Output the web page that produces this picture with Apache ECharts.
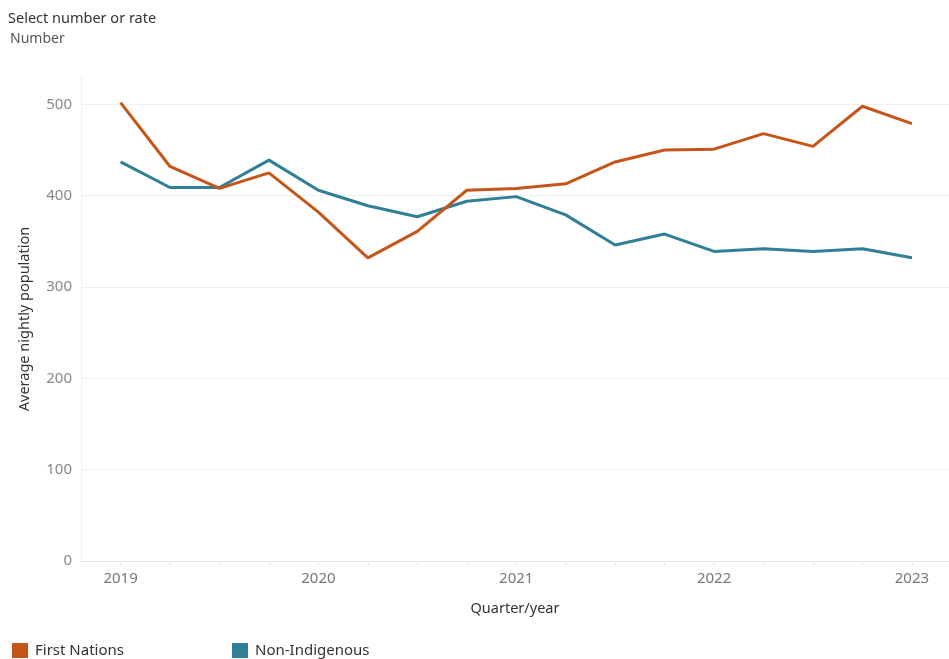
<!DOCTYPE html>
<html>
<head>
<meta charset="utf-8">
<script src="https://cdn.jsdelivr.net/npm/echarts@6/dist/echarts.min.js"></script>
<style>
  html, body { margin: 0; padding: 0; background: #fff; }
  #chart { width: 949px; height: 659px; }
</style>
</head>
<body>
<div id="chart"></div>
<script>
  // quarters, 2019 Q1 .. 2023 Q1
  var quarters = ['2019 Q1', '2019 Q2', '2019 Q3', '2019 Q4',
                  '2020 Q1', '2020 Q2', '2020 Q3', '2020 Q4',
                  '2021 Q1', '2021 Q2', '2021 Q3', '2021 Q4',
                  '2022 Q1', '2022 Q2', '2022 Q3', '2022 Q4',
                  '2023 Q1'];
  var yearTicks = [0, 4, 8, 12, 16];
  var yearLabels = ['2019', '2020', '2021', '2022', '2023'];
  var firstNations = [502, 432, 408, 425, 382, 332, 361, 406, 408, 413, 437, 450, 451, 468, 454, 498, 479];
  var nonIndigenous = [437, 409, 409, 439, 406, 389, 377, 394, 399, 379, 346, 358, 339, 342, 339, 342, 332];

  var font = '"Noto Sans", "Open Sans", sans-serif';

  function pairs(arr) {
    return arr.map(function (v, i) { return [i, v]; });
  }

  var chart = echarts.init(document.getElementById('chart'));
  var option = {
    backgroundColor: '#fff',
    animation: false,
    textStyle: { fontFamily: font },
    graphic: [
      { type: 'text', left: 8, top: 11, style: { text: 'Select number or rate', fontSize: 14.5, fontFamily: font, fill: '#333' } },
      { type: 'text', left: 10, top: 32, style: { text: 'Number', fontSize: 14, fontFamily: font, fill: '#555' } }
    ],
    legend: [
      { data: ['First Nations'], left: 12, top: 643, padding: 0, icon: 'rect', itemWidth: 16, itemHeight: 15,
        textStyle: { fontSize: 15, color: '#333', fontFamily: font, padding: [3, 0, 0, 2] } },
      { data: ['Non-Indigenous'], left: 232, top: 643, padding: 0, icon: 'rect', itemWidth: 16, itemHeight: 15,
        textStyle: { fontSize: 15, color: '#333', fontFamily: font, padding: [3, 0, 0, 2] } }
    ],
    grid: { left: 81, right: 0, top: 77, bottom: 98 },
    xAxis: {
      type: 'value',
      min: -0.8,
      max: 16.75,
      name: 'Quarter/year',
      nameLocation: 'middle',
      nameGap: 40,
      nameTextStyle: { fontSize: 14.5, color: '#333', fontFamily: font },
      axisLine: { show: true, onZero: false, lineStyle: { color: '#e6e6e6' } },
      axisTick: { show: true, customValues: quarters.map(function (q, i) { return i; }), length: 4, lineStyle: { color: '#e6e6e6' } },
      axisLabel: {
        customValues: yearTicks,
        formatter: function (v) { return yearLabels[yearTicks.indexOf(v)]; },
        color: '#777', fontSize: 15, margin: 10, fontFamily: font
      },
      splitLine: { show: false }
    },
    yAxis: {
      type: 'value',
      min: 0,
      max: 530,
      interval: 100,
      name: 'Average nightly population',
      nameLocation: 'middle',
      nameGap: 49,
      nameTextStyle: { fontSize: 14.5, color: '#333', fontFamily: font },
      axisLine: { show: true, onZero: false, lineStyle: { color: '#eeeeee' } },
      axisTick: { show: false },
      axisLabel: { color: '#888', fontSize: 15, margin: 9, showMaxLabel: false, fontFamily: font },
      splitLine: { show: true, showMaxLine: false, showMinLine: false, lineStyle: { color: '#efefef' } }
    },
    series: [
      {
        name: 'First Nations',
        type: 'line',
        data: pairs(firstNations),
        symbol: 'none',
        color: '#c4561a',
        lineStyle: { width: 3, color: '#c4561a' },
        z: 3
      },
      {
        name: 'Non-Indigenous',
        type: 'line',
        data: pairs(nonIndigenous),
        symbol: 'none',
        color: '#2f7f96',
        lineStyle: { width: 3, color: '#2f7f96' },
        z: 2
      }
    ]
  };
  chart.setOption(option);
</script>
</body>
</html>
